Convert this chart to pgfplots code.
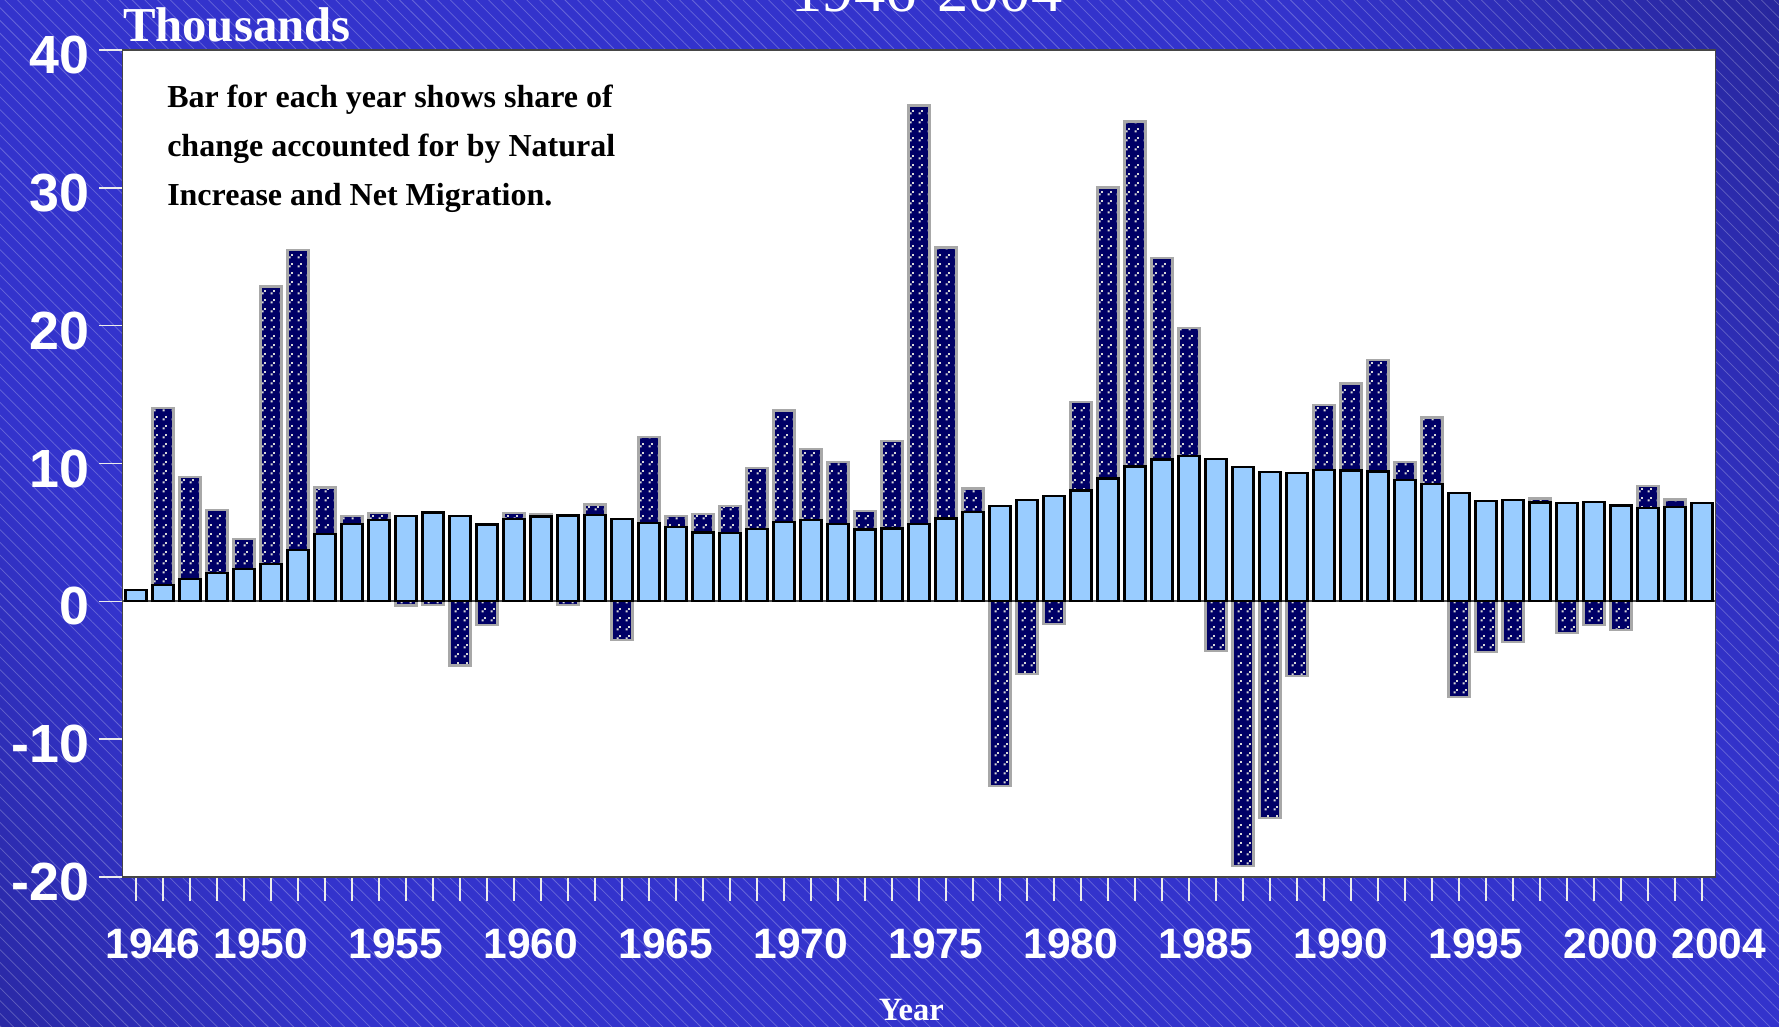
\documentclass[border=0pt]{standalone}
\usepackage{pgfplots}
\pgfplotsset{compat=1.18}
\usepackage{pgfplotstable}
\usepackage{fontspec}
\setmainfont{Liberation Serif}
\newfontfamily\lsans{Liberation Sans}
\usetikzlibrary{patterns,patterns.meta}

\definecolor{natfill}{HTML}{99CCFF}
\definecolor{navybar}{HTML}{000066}
\definecolor{migborder}{HTML}{A8A8A8}
\definecolor{bgbright}{RGB}{51,51,204}
\definecolor{bgdark}{RGB}{28,26,105}

\pgfdeclarehorizontalshading{bgshade}{100bp}{color(0bp)=(bgdark); color(26bp)=(bgbright); color(70bp)=(bgbright); color(100bp)=(bgdark)}

\pgfdeclarepattern{
  name=migdots,
  type=uncolored,
  bottom left={\pgfpoint{0pt}{0pt}},
  top right={\pgfpoint{3.4pt}{3.4pt}},
  tile size={\pgfpoint{3.4pt}{3.4pt}},
  code={
    \pgfpathrectangle{\pgfpoint{0.3pt}{0.3pt}}{\pgfpoint{0.8pt}{0.8pt}}
    \pgfpathrectangle{\pgfpoint{1.3pt}{1.3pt}}{\pgfpoint{0.8pt}{0.8pt}}
    \pgfusepath{fill}
  }
}

% year, natural increase (top of light bar), top of migration bar when positive, bottom when negative (thousands)
\pgfplotstableread{
year nat pos neg
1946 0.80 nan nan
1947 1.20 14.00 nan
1948 1.64 9.00 nan
1949 2.05 6.60 nan
1950 2.34 4.50 nan
1951 2.73 22.84 nan
1952 3.74 25.50 nan
1953 4.90 8.26 nan
1954 5.63 6.20 nan
1955 5.92 6.40 nan
1956 6.20 nan -0.30
1957 6.45 nan -0.25
1958 6.20 nan -4.66
1959 5.58 nan -1.70
1960 5.97 6.40 nan
1961 6.16 6.30 nan
1962 6.23 nan -0.27
1963 6.28 7.03 nan
1964 6.00 nan -2.78
1965 5.68 11.93 nan
1966 5.41 6.20 nan
1967 5.00 6.33 nan
1968 4.95 6.93 nan
1969 5.24 9.66 nan
1970 5.77 13.84 nan
1971 5.89 11.06 nan
1972 5.60 10.12 nan
1973 5.22 6.55 nan
1974 5.29 11.62 nan
1975 5.63 35.97 nan
1976 6.01 25.67 nan
1977 6.47 8.19 nan
1978 6.90 nan -13.40
1979 7.34 nan -5.27
1980 7.66 nan -1.62
1981 8.04 14.47 nan
1982 8.91 30.02 nan
1983 9.78 34.81 nan
1984 10.29 24.90 nan
1985 10.56 19.85 nan
1986 10.34 nan -3.62
1987 9.76 nan -19.20
1988 9.37 nan -15.70
1989 9.30 nan -5.43
1990 9.54 14.23 nan
1991 9.49 15.80 nan
1992 9.42 17.50 nan
1993 8.82 10.12 nan
1994 8.50 13.33 nan
1995 7.85 nan -6.96
1996 7.27 nan -3.70
1997 7.37 nan -2.97
1998 7.17 7.46 nan
1999 7.13 nan -2.30
2000 7.20 nan -1.69
2001 6.96 nan -2.10
2002 6.76 8.38 nan
2003 6.86 7.39 nan
2004 7.13 nan nan
}\popdata

\begin{document}
\begin{tikzpicture}
\useasboundingbox (0,0) rectangle (711.6pt,410.4pt);
\begin{scope}
\clip (0,0) rectangle (711.6pt,410.4pt);
\shade[shading=bgshade, shading angle=30] (0,0) rectangle (711.6pt,410.4pt);
\fill[pattern={Lines[angle=-45,distance=3.6pt,line width=0.3pt]}, pattern color=white, opacity=0.25] (0,0) rectangle (711.6pt,410.4pt);
\node[anchor=base, text=white, font=\fontsize{25}{25}\selectfont, inner sep=0pt] at (370.8pt,405.7pt) {1946-2004};
\end{scope}

\node[anchor=base west, text=white, font=\bfseries\fontsize{19.5}{19.5}\selectfont, inner sep=0pt] at (49pt,393.7pt) {Thousands};
\node[anchor=base, text=white, font=\bfseries\fontsize{13}{13}\selectfont, inner sep=0pt] at (364.5pt,2.2pt) {Year};

\begin{axis}[
  at={(49pt,59.6pt)}, anchor=south west,
  scale only axis, width=637.2pt, height=330.8pt,
  xmin=1945.5, xmax=2004.5, ymin=-20, ymax=40,
  axis background/.style={fill=white},
  axis line style={draw=gray!55!black, line width=0.6pt},
  ybar, bar width=0.78,
  xtick={1946,1947,...,2004}, xticklabels={},
  extra x ticks={1946,1950,1955,1960,1965,1970,1975,1980,1985,1990,1995,2000,2004},
  extra x tick labels={1946,1950,1955,1960,1965,1970,1975,1980,1985,1990,1995,2000,2004},
  extra x tick style={major tick length=0pt, xticklabel style={anchor=north, inner sep=0pt, yshift=-20.4pt, xshift=6.8pt, text=white, font=\lsans\bfseries\fontsize{17}{17}\selectfont}},
  ytick={-20,-10,0,10,20,30,40},
  yticklabels={-20,-10,0,10,20,30,40},
  yticklabel style={anchor=east, inner sep=0pt, text=white, font=\lsans\bfseries\fontsize{21.5}{21.5}\selectfont, yshift=-2pt, xshift=-3.6pt},
  tick align=outside, major tick length=9.5pt,
  xtick pos=bottom, ytick pos=left,
  tick style={draw=white!85!gray, line width=0.6pt},
]
\draw[gray!60!black, line width=0.7pt] (axis cs:1945.5,0) -- (axis cs:2004.5,0);
\addplot[bar shift=0pt, fill=navybar, draw=migborder, line width=0.9pt, postaction={pattern=migdots, pattern color=gray!30}] table[x=year, y=pos] {\popdata};
\addplot[bar shift=0pt, fill=navybar, draw=migborder, line width=0.9pt, postaction={pattern=migdots, pattern color=gray!30}] table[x=year, y=neg] {\popdata};
\addplot[bar shift=0pt, fill=natfill, draw=black, line width=0.9pt] table[x=year, y=nat] {\popdata};
\end{axis}

\node[anchor=base west, text=black, font=\bfseries\fontsize{12.8}{19.6}\selectfont, inner sep=0pt, align=left] at (66.7pt,328.0pt) {Bar for each year shows share of\\change accounted for by Natural\\Increase and Net Migration.};
\end{tikzpicture}
\end{document}
